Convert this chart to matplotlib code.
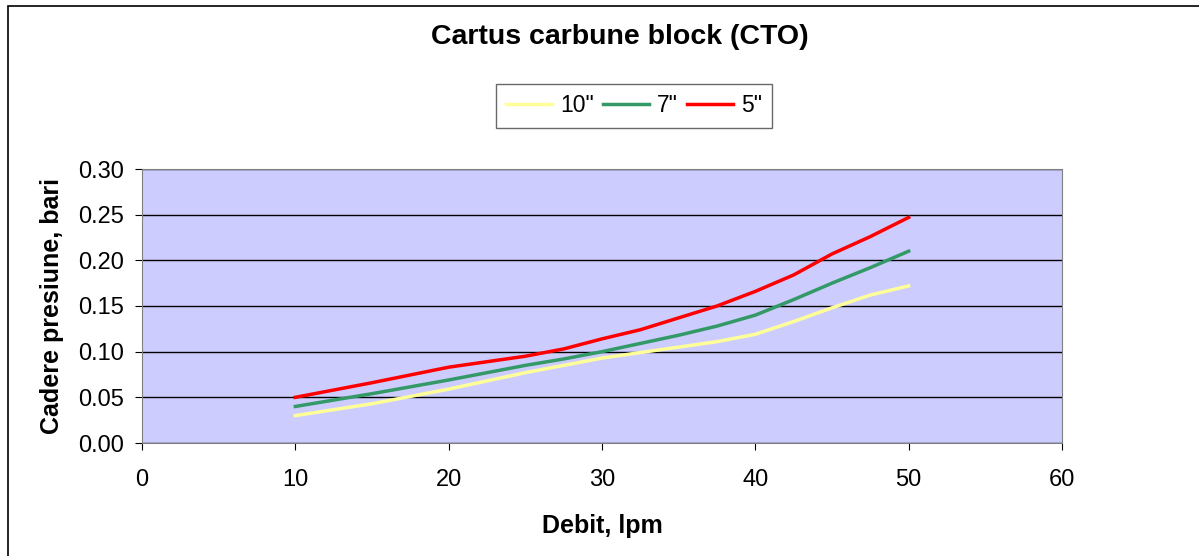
import matplotlib.pyplot as plt
from matplotlib.patches import Rectangle

plt.rcParams['font.family'] = ['Liberation Sans', 'DejaVu Sans']

debit = [10, 15, 20, 25, 27.5, 30, 32.5, 35, 37.5, 40, 42.5, 45, 47.5, 50]
p_10 = [0.030, 0.043, 0.059, 0.077, 0.085, 0.093, 0.099, 0.105, 0.111, 0.119, 0.133, 0.148, 0.162, 0.172]
p_7 = [0.040, 0.054, 0.069, 0.085, 0.092, 0.100, 0.109, 0.118, 0.128, 0.140, 0.157, 0.175, 0.192, 0.210]
p_5 = [0.050, 0.066, 0.083, 0.095, 0.103, 0.114, 0.124, 0.137, 0.150, 0.166, 0.184, 0.207, 0.226, 0.247]
labels = ['10"', '7"', '5"']

fig = plt.figure(figsize=(11.99, 5.56), dpi=100)
fig.patches.append(Rectangle((8 / 1199, -0.01), 1.2, 1 - 6 / 556 + 0.01, transform=fig.transFigure,
                             fill=False, edgecolor='black', linewidth=1.2))
ax = fig.add_axes([142 / 1199, 1 - 443 / 556, 920 / 1199, 274 / 556])
ax.set_facecolor('#CCCCFF')

ax.plot(debit, p_10, color='#FFFF99', lw=2.5, label=labels[0])
ax.plot(debit, p_7, color='#339966', lw=2.5, label=labels[1])
ax.plot(debit, p_5, color='#FF0000', lw=2.5, label=labels[2])

ax.set_xlim(0, 60)
ax.set_ylim(0, 0.30)
ax.set_xticks(range(0, 61, 10))
ax.set_yticks([0, 0.05, 0.10, 0.15, 0.20, 0.25, 0.30])
ax.set_yticklabels(['%.2f' % v for v in ax.get_yticks()])
ax.grid(axis='y', color='black', lw=1)
ax.set_axisbelow(True)
ax.tick_params(labelsize=17, length=5, color='black')
ax.tick_params(axis='x', pad=14)
ax.tick_params(axis='y', pad=8)
for s in ['top', 'right', 'left', 'bottom']:
    ax.spines[s].set_color('#808080')

ax.set_xlabel('Debit, lpm', fontsize=18, fontweight='bold', labelpad=16)
ax.set_ylabel('Cadere presiune, bari', fontsize=18, fontweight='bold', labelpad=10)
fig.text(0.517, 1 - 37 / 556, 'Cartus carbune block (CTO)', fontsize=20.5, fontweight='bold',
         ha='center', va='center')

leg = fig.legend(loc='center', bbox_to_anchor=(634 / 1199, 1 - 106 / 556), ncol=3,
                 fontsize=16.5, frameon=True, fancybox=False, handlelength=2.0,
                 columnspacing=0.4, handletextpad=0.35, borderpad=0.45, borderaxespad=0)
leg.get_frame().set_edgecolor('#444444')
leg.get_frame().set_linewidth(1)

fig.savefig('out.png', dpi=100)
